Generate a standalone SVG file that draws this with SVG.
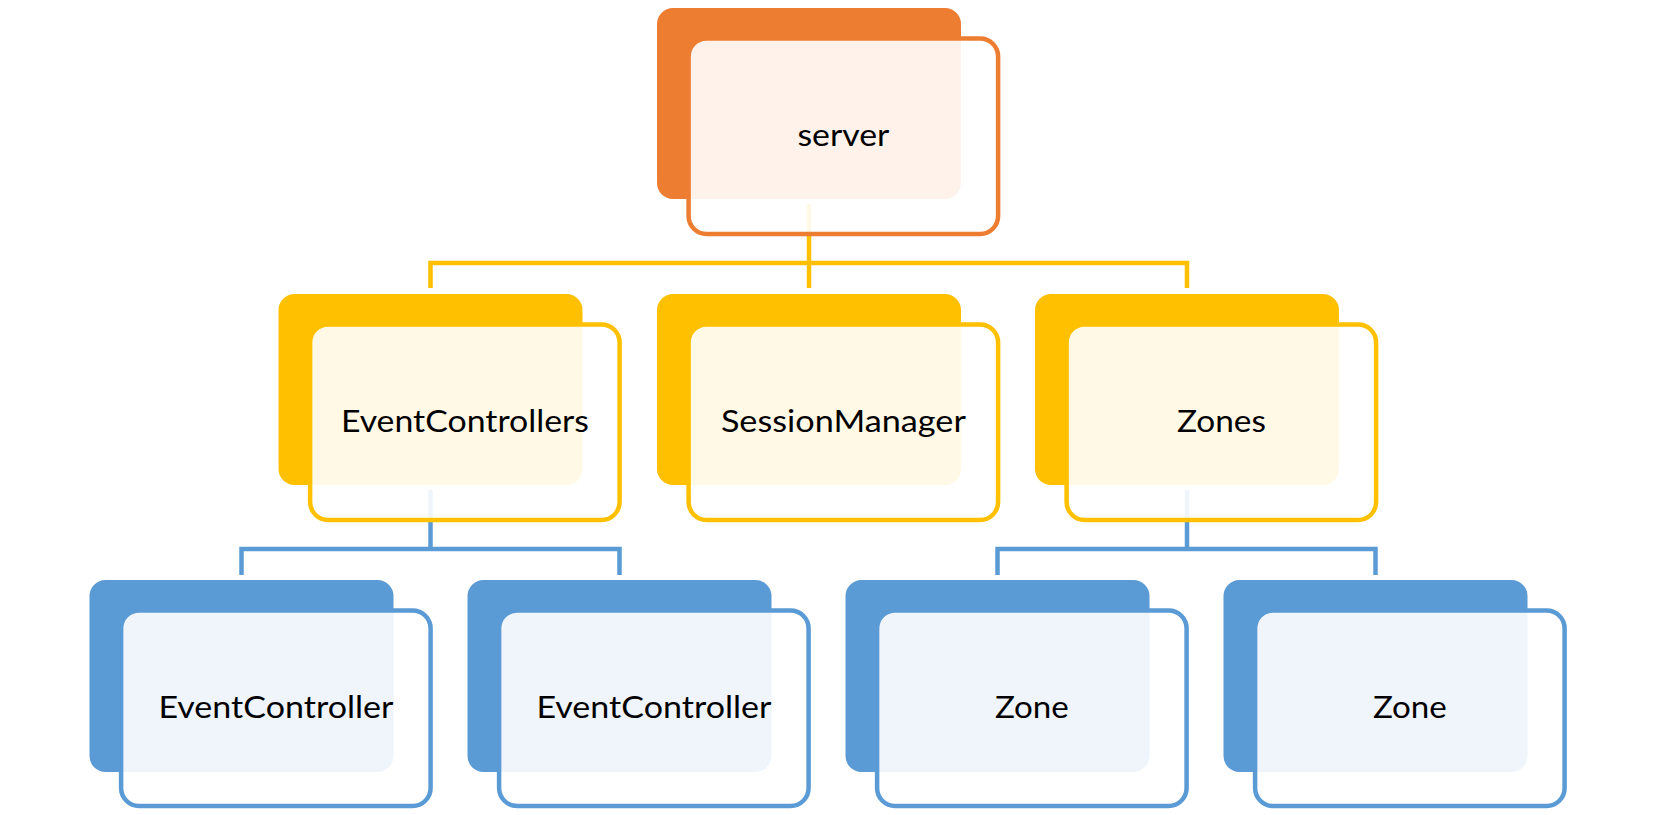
<svg xmlns="http://www.w3.org/2000/svg" width="1659" height="815" viewBox="0 0 1659 815">
<style>
  .back { stroke: none; }
  .front { fill: #FFFFFF; fill-opacity: 0.9; stroke-width: 4.5; }
  .orange .back { fill: #ED7D31; }
  .orange .front { stroke: #ED7D31; }
  .yellow .back { fill: #FFC000; }
  .yellow .front { stroke: #FFC000; }
  .blue .back { fill: #5B9BD5; }
  .blue .front { stroke: #5B9BD5; }
  .label { font-family: Lato, "Open Sans", sans-serif; font-size: 31px; fill: #000000; text-anchor: middle; }
  .conn { fill: none; stroke-width: 4.5; stroke-linejoin: miter; stroke-linecap: butt; }
  .c-yellow { stroke: #FFC000; }
  .c-blue { stroke: #5B9BD5; }
</style>
<defs>
  <rect id="backRect" class="back" x="0" y="0" width="304" height="191" rx="16" ry="16"/>
  <rect id="frontRect" class="front" x="31.6" y="30.5" width="309.5" height="195.5" rx="18" ry="18"/>
</defs>
<rect x="0" y="0" width="1659" height="815" fill="#FFFFFF"/>
<g id="connectors">
  <path class="conn c-yellow" d="M809,204 V288"/>
  <path class="conn c-yellow" d="M430.5,288 V263 H1187 V288"/>
  <path class="conn c-blue" d="M430.5,490 V549"/>
  <path class="conn c-blue" d="M241.5,575 V549 H619.5 V575"/>
  <path class="conn c-blue" d="M1187,490 V549"/>
  <path class="conn c-blue" d="M997.5,575 V549 H1375.5 V575"/>
</g>
<g id="node-server" class="orange" transform="translate(657,8)">
  <rect class="back" x="0" y="0" width="304" height="191" rx="16" ry="16"/>
  <rect class="front" x="31.6" y="30.5" width="309.5" height="195.5" rx="18" ry="18"/>
  <text class="label" x="186.4" y="137.5" textLength="92" lengthAdjust="spacingAndGlyphs">server</text>
</g>
<g id="node-eventcontrollers" class="yellow" transform="translate(278.5,294)">
  <rect class="back" x="0" y="0" width="304" height="191" rx="16" ry="16"/>
  <rect class="front" x="31.6" y="30.5" width="309.5" height="195.5" rx="18" ry="18"/>
  <text class="label" x="186.4" y="137.5" textLength="248" lengthAdjust="spacingAndGlyphs">EventControllers</text>
</g>
<g id="node-sessionmanager" class="yellow" transform="translate(657,294)">
  <rect class="back" x="0" y="0" width="304" height="191" rx="16" ry="16"/>
  <rect class="front" x="31.6" y="30.5" width="309.5" height="195.5" rx="18" ry="18"/>
  <text class="label" x="186.4" y="137.5" textLength="245" lengthAdjust="spacingAndGlyphs">SessionManager</text>
</g>
<g id="node-zones" class="yellow" transform="translate(1035,294)">
  <rect class="back" x="0" y="0" width="304" height="191" rx="16" ry="16"/>
  <rect class="front" x="31.6" y="30.5" width="309.5" height="195.5" rx="18" ry="18"/>
  <text class="label" x="186.4" y="137.5" textLength="89" lengthAdjust="spacingAndGlyphs">Zones</text>
</g>
<g id="node-eventcontroller-1" class="blue" transform="translate(89.5,580)">
  <rect class="back" x="0" y="0" width="304" height="192" rx="16" ry="16"/>
  <rect class="front" x="31.6" y="30.5" width="309.5" height="195.5" rx="18" ry="18"/>
  <text class="label" x="186.4" y="137.5" textLength="235" lengthAdjust="spacingAndGlyphs">EventController</text>
</g>
<g id="node-eventcontroller-2" class="blue" transform="translate(467.5,580)">
  <rect class="back" x="0" y="0" width="304" height="192" rx="16" ry="16"/>
  <rect class="front" x="31.6" y="30.5" width="309.5" height="195.5" rx="18" ry="18"/>
  <text class="label" x="186.4" y="137.5" textLength="235" lengthAdjust="spacingAndGlyphs">EventController</text>
</g>
<g id="node-zone-1" class="blue" transform="translate(845.5,580)">
  <rect class="back" x="0" y="0" width="304" height="192" rx="16" ry="16"/>
  <rect class="front" x="31.6" y="30.5" width="309.5" height="195.5" rx="18" ry="18"/>
  <text class="label" x="186.4" y="137.5" textLength="74" lengthAdjust="spacingAndGlyphs">Zone</text>
</g>
<g id="node-zone-2" class="blue" transform="translate(1223.5,580)">
  <rect class="back" x="0" y="0" width="304" height="192" rx="16" ry="16"/>
  <rect class="front" x="31.6" y="30.5" width="309.5" height="195.5" rx="18" ry="18"/>
  <text class="label" x="186.4" y="137.5" textLength="74" lengthAdjust="spacingAndGlyphs">Zone</text>
</g>
</svg>
